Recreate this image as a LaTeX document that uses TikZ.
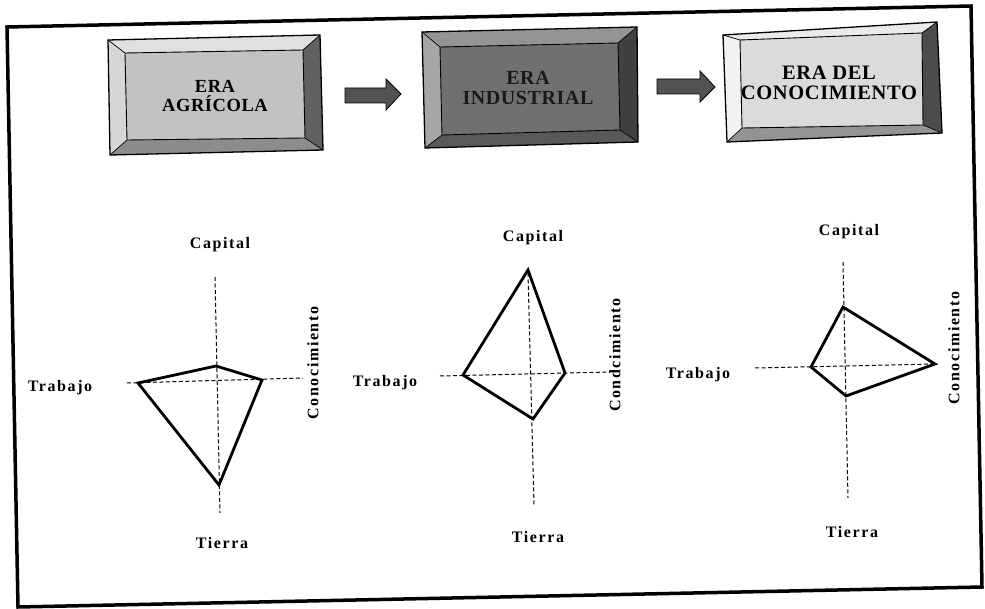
\documentclass[tikz,border=0pt]{standalone}
\usepackage{fontspec}
\setmainfont{Liberation Serif}
\newcommand\drawbev[6]{%
 \fill[#2] (#1o1)--(#1o2)--(#1i2)--(#1i1)--cycle;
 \fill[#3] (#1o2)--(#1o3)--(#1i3)--(#1i2)--cycle;
 \fill[#4] (#1o3)--(#1o4)--(#1i4)--(#1i3)--cycle;
 \fill[#5] (#1o4)--(#1o1)--(#1i1)--(#1i4)--cycle;
 \fill[#6] (#1i1)--(#1i2)--(#1i3)--(#1i4)--cycle;
 \draw[line width=1.3pt,line join=miter] (#1o1)--(#1o2)--(#1o3)--(#1o4)--cycle;
 \draw[line width=0.9pt] (#1i1)--(#1i2)--(#1i3)--(#1i4)--cycle;
 \draw[line width=0.7pt] (#1o1)--(#1i1) (#1o2)--(#1i2) (#1o3)--(#1i3) (#1o4)--(#1i4);
}
\begin{document}
\begin{tikzpicture}[x=1pt,y=-1pt,
  lbl/.style={font=\fontsize{16}{18}\selectfont\bfseries\addfontfeature{LetterSpace=10},inner sep=0pt},
  eratext/.style={font=\fontsize{#1}{#1}\selectfont\bfseries\addfontfeature{LetterSpace=3},align=center,inner sep=0pt},
  axisline/.style={dash pattern=on 4pt off 2.5pt,line width=1pt},
  poly/.style={line width=2.8pt,line join=miter},
  framebox/.style={line width=3.5pt,line join=miter},
  fatarrow/.style={fill=black!68,draw=black,line width=0.8pt,line join=miter}]
\useasboundingbox (0,0) rectangle (985,609);
\fill[white] (0,0) rectangle (985,609);
% outer frame
\coordinate (f1) at (7,27); \coordinate (f2) at (971,6);
\coordinate (f3) at (982,587); \coordinate (f4) at (18,607);
\draw[framebox] (f1)--(f2)--(f3)--(f4)--cycle;

% box 1
\coordinate (Ao1) at (108,40); \coordinate (Ao2) at (320,35);
\coordinate (Ao3) at (323,150); \coordinate (Ao4) at (110,155);
\coordinate (Ai1) at (125,53); \coordinate (Ai2) at (303,50);
\coordinate (Ai3) at (305,138); \coordinate (Ai4) at (127,140);
\drawbev{A}{black!12}{black!62}{black!45}{black!16}{black!24}
\node[eratext=18.5] (era1) at (215,96) {ERA\\[1pt]AGRÍCOLA};

% box 2
\coordinate (Bo1) at (422,32); \coordinate (Bo2) at (637,27);
\coordinate (Bo3) at (638,142); \coordinate (Bo4) at (425,148);
\coordinate (Bi1) at (440,47); \coordinate (Bi2) at (618,43);
\coordinate (Bi3) at (620,130); \coordinate (Bi4) at (442,135);
\drawbev{B}{black!42}{black!75}{black!65}{black!35}{black!56}
\node[eratext=20,text=black!90] (era2) at (528,88) {ERA\\INDUSTRIAL};

% box 3
\coordinate (Co1) at (723,35); \coordinate (Co2) at (937,22);
\coordinate (Co3) at (942,133); \coordinate (Co4) at (727,142);
\coordinate (Ci1) at (740,40); \coordinate (Ci2) at (922,33);
\coordinate (Ci3) at (923,125); \coordinate (Ci4) at (742,128);
\drawbev{C}{black!8}{black!70}{black!42}{black!5}{black!14}
\node[eratext=20.5] (era3) at (829,83) {ERA DEL\\CONOCIMIENTO};

% arrows
\draw[fatarrow] (345,88)--(386,88)--(386,79)--(401,94)--(386,110)--(386,103)--(345,103)--cycle;
\draw[fatarrow] (657,79)--(700,79)--(700,71)--(715,87)--(700,102)--(700,94)--(657,94)--cycle;

% chart 1
\coordinate (a1t) at (215,277); \coordinate (a1b) at (220,513);
\coordinate (a1l) at (127,383); \coordinate (a1r) at (303,378);
\draw[axisline] (a1t)--(a1b); \draw[axisline] (a1l)--(a1r);
\coordinate (p1c) at (216,366); \coordinate (p1k) at (262,380);
\coordinate (p1t) at (219,485); \coordinate (p1w) at (138,383);
\draw[poly] (p1c)--(p1k)--(p1t)--(p1w)--cycle;
\node[lbl] (cap1) at (220,245) {Capital};
\node[lbl] (tra1) at (60,388) {Trabajo};
\node[lbl] (tie1) at (222,543) {Tierra};
\node[lbl,rotate=90] (con1) at (313,363) {Conocimiento};

% chart 2
\coordinate (a2t) at (528,273); \coordinate (a2b) at (534,505);
\coordinate (a2l) at (440,376); \coordinate (a2r) at (610,372);
\draw[axisline] (a2t)--(a2b); \draw[axisline] (a2l)--(a2r);
\coordinate (p2c) at (528,270); \coordinate (p2k) at (565,373);
\coordinate (p2t) at (533,419); \coordinate (p2w) at (463,375);
\draw[poly] (p2c)--(p2k)--(p2t)--(p2w)--cycle;
\node[lbl] (cap2) at (533,238) {Capital};
\node[lbl] (tra2) at (385,383) {Trabajo};
\node[lbl] (tie2) at (538,537) {Tierra};
\node[lbl,rotate=90] (con2) at (615,355) {Condcimiento};

% chart 3
\coordinate (a3t) at (843,262); \coordinate (a3b) at (848,498);
\coordinate (a3l) at (755,368); \coordinate (a3r) at (935,364);
\draw[axisline] (a3t)--(a3b); \draw[axisline] (a3l)--(a3r);
\coordinate (p3c) at (843,307); \coordinate (p3k) at (935,364);
\coordinate (p3t) at (846,396); \coordinate (p3w) at (811,367);
\draw[poly] (p3c)--(p3k)--(p3t)--(p3w)--cycle;
\node[lbl] (cap3) at (849,232) {Capital};
\node[lbl] (tra3) at (698,375) {Trabajo};
\node[lbl] (tie3) at (852,532) {Tierra};
\node[lbl,rotate=90] (con3) at (954,348) {Conocimiento};
\end{tikzpicture}
\end{document}
